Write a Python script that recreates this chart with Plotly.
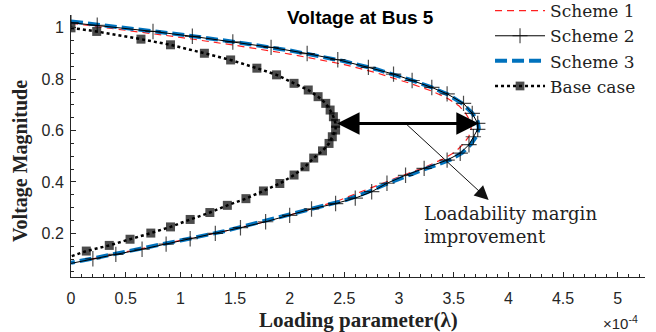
import plotly.graph_objects as go

# Loading parameter values are in units of 1e-4
s1_lam = [0, 0.5, 1.0, 1.5, 2.0, 2.5, 2.8, 3.1, 3.3, 3.45, 3.55, 3.61, 3.65, 3.66, 3.64, 3.59, 3.51, 3.4, 3.25, 3.05, 2.85, 2.65, 2.45, 2.2, 1.8, 1.4, 1.0, 0.5, 0]
s1_v = [1.018, 0.99, 0.963, 0.932, 0.898, 0.857, 0.824, 0.784, 0.754, 0.724, 0.696, 0.667, 0.638, 0.608, 0.578, 0.548, 0.516, 0.489, 0.46, 0.428, 0.395, 0.36, 0.328, 0.295, 0.248, 0.208, 0.172, 0.128, 0.083]

s2_lam = [0, 0.24, 0.75, 1.11, 1.48, 1.83, 2.16, 2.44, 2.72, 2.95, 3.12, 3.30, 3.44, 3.59, 3.67, 3.72, 3.72, 3.68, 3.64, 3.56, 3.44, 3.23, 3.06, 2.89, 2.75, 2.60, 2.42, 2.20, 2.0, 1.78, 1.55, 1.32, 1.09, 0.87, 0.65, 0.41, 0.20, 0]
s2_v = [1.02, 1.01, 0.986, 0.967, 0.945, 0.924, 0.9, 0.876, 0.846, 0.82, 0.795, 0.768, 0.743, 0.706, 0.667, 0.628, 0.605, 0.576, 0.545, 0.512, 0.485, 0.453, 0.426, 0.395, 0.362, 0.337, 0.316, 0.295, 0.27, 0.245, 0.222, 0.2, 0.179, 0.158, 0.138, 0.118, 0.101, 0.083]

s3_lam = [0, 0.5, 1.0, 1.5, 2.0, 2.5, 2.8, 3.1, 3.3, 3.45, 3.58, 3.67, 3.72, 3.73, 3.71, 3.66, 3.58, 3.47, 3.3, 3.1, 2.9, 2.7, 2.5, 2.2, 1.8, 1.4, 1.0, 0.5, 0]
s3_v = [1.025, 1.0, 0.974, 0.945, 0.912, 0.87, 0.838, 0.798, 0.768, 0.74, 0.705, 0.668, 0.635, 0.61, 0.58, 0.548, 0.514, 0.487, 0.458, 0.428, 0.395, 0.358, 0.328, 0.295, 0.248, 0.208, 0.172, 0.128, 0.085]

base_lam = [0, 0.235, 0.64, 0.91, 1.22, 1.46, 1.70, 1.88, 2.04, 2.17, 2.26, 2.33, 2.37, 2.40, 2.42, 2.42, 2.39, 2.36, 2.30, 2.22, 2.14, 2.04, 1.91, 1.76, 1.60, 1.43, 1.27, 1.09, 0.91, 0.73, 0.54, 0.35, 0.14, 0]
base_v = [1.0, 0.986, 0.956, 0.934, 0.901, 0.875, 0.843, 0.817, 0.784, 0.758, 0.732, 0.706, 0.68, 0.654, 0.628, 0.602, 0.576, 0.55, 0.521, 0.493, 0.459, 0.427, 0.394, 0.365, 0.335, 0.309, 0.281, 0.254, 0.225, 0.201, 0.177, 0.153, 0.131, 0.11]

x_ticks = [0, 0.5, 1, 1.5, 2, 2.5, 3, 3.5, 4, 4.5, 5]
x_labels = ["0", "0.5", "1", "1.5", "2", "2.5", "3", "3.5", "4", "4.5", "5"]
y_ticks = [0.2, 0.4, 0.6, 0.8, 1.0]
y_labels = ["0.2", "0.4", "0.6", "0.8", "1"]

SERIF = "Liberation Serif"
WSERIF = "DejaVu Serif"
SANS = "Liberation Sans"
AX = "#262626"

fig = go.Figure()
fig.add_trace(go.Scatter(x=s1_lam, y=s1_v, mode="lines", name="Scheme 1", legendrank=1,
                         line=dict(color="#ff2020", width=1.2, dash="7px,5px")))
fig.add_trace(go.Scatter(x=s3_lam, y=s3_v, mode="lines", name="Scheme 3", legendrank=3,
                         line=dict(color="#0072BD", width=4, dash="12px,5px")))
s2_sizes = [11] * (len(s2_lam) - 1) + [0]
fig.add_trace(go.Scatter(x=s2_lam, y=s2_v, mode="lines+markers", name="Scheme 2", legendrank=2,
                         line=dict(color="#000000", width=1),
                         marker=dict(symbol="cross-thin-open", size=s2_sizes, color="#000000",
                                     line=dict(width=1.2, color="#000000"))))
base_sizes = [9] * (len(base_lam) - 1) + [0]
fig.add_trace(go.Scatter(x=base_lam, y=base_v, mode="lines+markers", name="Base case", legendrank=4,
                         line=dict(color="black", width=2.5, dash="dot"),
                         marker=dict(symbol="square", size=base_sizes, color="black",
                                     line=dict(width=0))))

nose_base = max(base_lam)
nose_s3 = max(s3_lam)
nose_v = base_v[base_lam.index(nose_base)]

annotations = [
    dict(x=nose_s3, y=nose_v, ax=nose_base, ay=nose_v, xref="x", yref="y", axref="x", ayref="y",
         text="", showarrow=True, arrowhead=2, arrowside="end+start", arrowwidth=3,
         arrowsize=1.5, arrowcolor="black"),
    dict(x=3.82, y=0.33, ax=3.06, ay=nose_v, xref="x", yref="y", axref="x", ayref="y",
         text="", showarrow=True, arrowhead=2, arrowwidth=1, arrowsize=2.8, arrowcolor="#111111"),
    dict(x=3.21, y=0.231, xref="x", yref="y", xanchor="left", yanchor="middle", align="left",
         text="Loadability margin<br>improvement", showarrow=False,
         font=dict(family=WSERIF, size=18, color="#222222")),
    dict(x=0.505, y=0.992, xref="paper", yref="paper", xanchor="center", yanchor="middle",
         text="<b>Voltage at Bus 5</b>", showarrow=False,
         font=dict(family=SANS, size=19, color="black")),
    dict(x=0.5, y=-0.166, xref="paper", yref="paper", xanchor="center", yanchor="middle",
         text="<b>Loading parameter(λ)</b>", showarrow=False,
         font=dict(family=SERIF, size=21, color="#222222")),
    dict(x=-0.087, y=0.443, xref="paper", yref="paper", xanchor="center", yanchor="middle",
         text="<b>Voltage Magnitude</b>", showarrow=False, textangle=-90,
         font=dict(family=SERIF, size=20, color="#222222")),
    dict(x=0.958, y=-0.172, xref="paper", yref="paper", xanchor="center", yanchor="middle",
         text="×10<sup>-4</sup>", showarrow=False,
         font=dict(family=SANS, size=15, color=AX)),
]

fig.update_layout(
    width=656, height=332,
    margin=dict(l=71, r=11, t=15, b=55, autoexpand=False),
    paper_bgcolor="white", plot_bgcolor="white",
    showlegend=True,
    legend=dict(x=0.73, y=1.0835, xanchor="left", yanchor="top", bgcolor="rgba(0,0,0,0)",
                font=dict(family=WSERIF, size=17, color="#222222"), itemwidth=50,
                tracegroupgap=0, traceorder="normal"),
    annotations=annotations,
)
fig.update_xaxes(range=[0, 5.25], tickvals=x_ticks, ticktext=x_labels, showgrid=False, zeroline=False,
                 showline=True, linecolor=AX, linewidth=1, ticks="inside", ticklen=5, tickcolor=AX,
                 tickfont=dict(family=SANS, size=16, color=AX), ticklabelstandoff=7,
                 minor=dict(dtick=0.1, ticks="inside", ticklen=3, tickcolor=AX))
fig.update_yaxes(range=[0.03, 1.05], tickvals=y_ticks, ticktext=y_labels, showgrid=False, zeroline=False,
                 showline=True, linecolor=AX, linewidth=1, ticks="inside", ticklen=5, tickcolor=AX,
                 tickfont=dict(family=SANS, size=16, color=AX), ticklabelstandoff=3,
                 minor=dict(tick0=0, dtick=0.05, ticks="inside", ticklen=3, tickcolor=AX))

fig.write_html("out.html")
